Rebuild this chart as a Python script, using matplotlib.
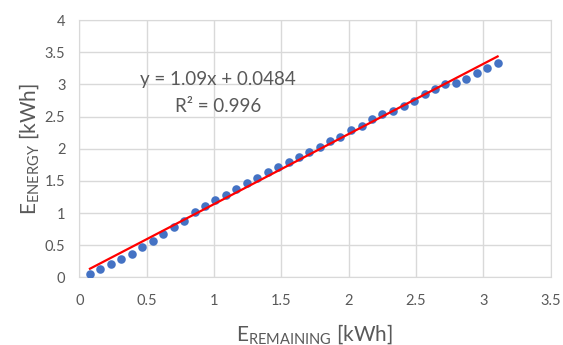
import numpy as np
import matplotlib
matplotlib.use('Agg')
import matplotlib.pyplot as plt

# Remaining energy vs. energy [kWh]
e_remaining = [0.079, 0.156, 0.235, 0.312, 0.389, 0.468, 0.545, 0.624, 0.701, 0.780,
               0.856, 0.933, 1.010, 1.087, 1.166, 1.245, 1.322, 1.398, 1.478, 1.554,
               1.631, 1.708, 1.784, 1.864, 1.935, 2.017, 2.096, 2.171, 2.250, 2.329,
               2.408, 2.485, 2.564, 2.641, 2.717, 2.794, 2.871, 2.950, 3.029, 3.106]
e_energy = [0.051, 0.134, 0.207, 0.285, 0.362, 0.471, 0.565, 0.673, 0.777, 0.876,
            1.016, 1.114, 1.197, 1.280, 1.378, 1.467, 1.540, 1.633, 1.711, 1.793,
            1.871, 1.949, 2.032, 2.115, 2.187, 2.291, 2.358, 2.457, 2.535, 2.586,
            2.669, 2.737, 2.846, 2.924, 3.002, 3.017, 3.084, 3.173, 3.255, 3.333]

# Linear trendline
slope = 1.09
intercept = 0.0484
r2 = 0.996

x_ticks = [0, 0.5, 1, 1.5, 2, 2.5, 3, 3.5]
y_ticks = [0, 0.5, 1, 1.5, 2, 2.5, 3, 3.5, 4]

plt.rcParams['font.family'] = ['Lato', 'DejaVu Sans']
plt.rcParams['mathtext.fontset'] = 'custom'
plt.rcParams['mathtext.rm'] = 'Lato'
plt.rcParams['mathtext.it'] = 'Lato'
plt.rcParams['mathtext.bf'] = 'Lato'

grey = '#595959'

fig = plt.figure(figsize=(5.63, 3.45), dpi=100)
ax = fig.add_axes([0.1409, 0.196, 0.8372, 0.746])

ax.scatter(e_remaining, e_energy, s=38, color='#4472C4', zorder=3, linewidths=0)

xs = np.array([min(e_remaining), max(e_remaining)])
ax.plot(xs, slope * xs + intercept, color='#FF0000', lw=1.6, zorder=4)

ax.text(1.03, 3.07, 'y = %.2fx + %.4f' % (slope, intercept), ha='center', va='center',
        fontsize=13.5, color=grey)
ax.text(1.03, 2.65, 'R² = %.3f' % r2, ha='center', va='center',
        fontsize=13.5, color=grey)

ax.set_xlim(0, 3.5)
ax.set_ylim(0, 4)
ax.set_xticks(x_ticks)
ax.set_yticks(y_ticks)
ax.set_xticklabels([('%g' % t) for t in x_ticks])
ax.set_yticklabels([('%g' % t) for t in y_ticks])
ax.tick_params(length=0, labelsize=10.5, colors=grey)
ax.tick_params(axis='x', pad=12)
ax.tick_params(axis='y', pad=10)
ax.grid(True, color='#D9D9D9', lw=1)
ax.set_axisbelow(True)
for s in ax.spines.values():
    s.set_color('#D9D9D9')

ax.set_xlabel(r'E$_{\mathrm{REMAINING}}$ [kWh]', fontsize=15, color=grey, labelpad=10)
ax.set_ylabel(r'E$_{\mathrm{ENERGY}}$ [kWh]', fontsize=15, color=grey, labelpad=3)

fig.savefig('out.png', dpi=100)
